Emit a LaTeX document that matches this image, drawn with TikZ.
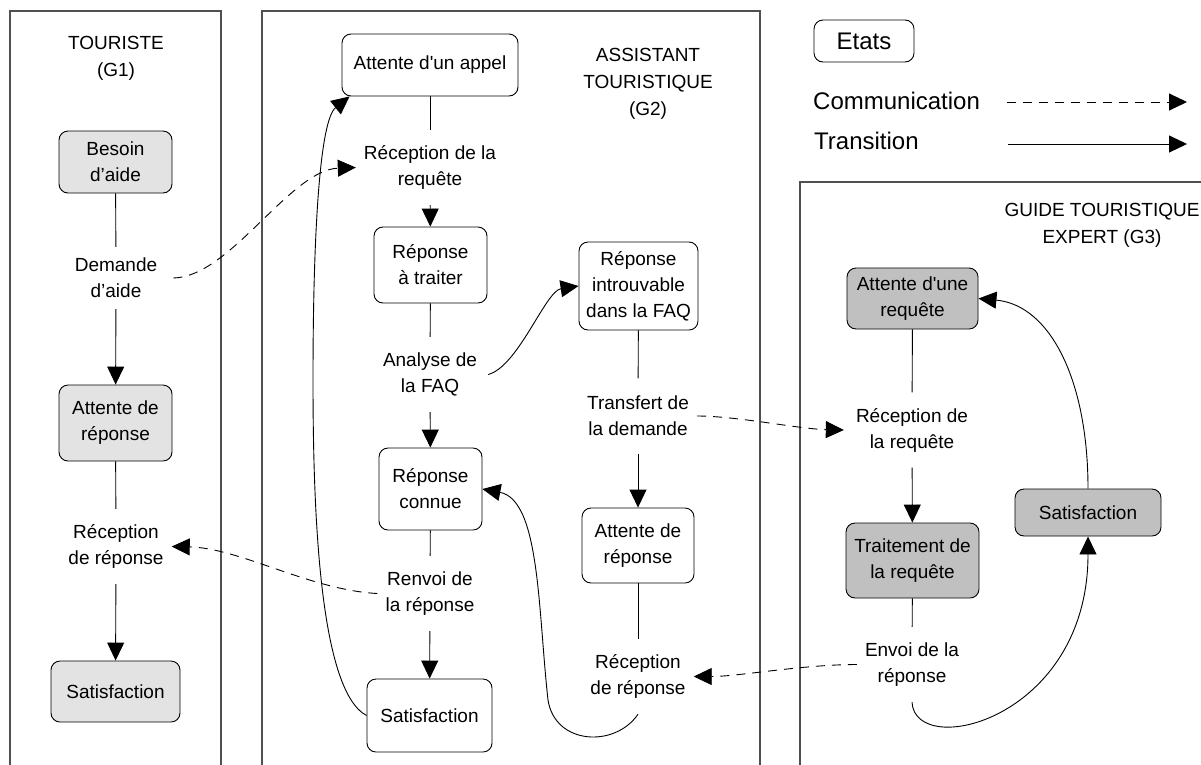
\documentclass[tikz,border=0pt]{standalone}
\usepackage{fontspec}
\setmainfont{Liberation Sans}
\usetikzlibrary{arrows.meta}
\definecolor{gone}{HTML}{E3E3E3}
\definecolor{gthree}{HTML}{C0C0C0}
\definecolor{lanec}{HTML}{505050}
\newcommand{\sq}{\textquotesingle}
\begin{document}
\begin{tikzpicture}[x=1pt,y=-1pt,
  every node/.style={font=\fontsize{19}{26}\selectfont, text=black},
  state/.style={draw, rounded corners=9pt, align=center, inner sep=0pt, line width=0.9pt},
  stateone/.style={state, fill=gone},
  statethree/.style={state, fill=gthree},
  lbl/.style={align=center, inner xsep=8pt, inner ysep=0pt, minimum height=75pt},
  ttl/.style={align=center, font=\fontsize{19}{27}\selectfont},
  lgd/.style={font=\fontsize{24}{28}\selectfont},
  lane/.style={draw=lanec, line width=1.2pt},
  trans/.style={line width=0.9pt},
  transarr/.style={line width=0.9pt, -{Triangle[length=18pt,width=17pt]}},
  comm/.style={line width=0.9pt, dash pattern=on 9pt off 7pt, -{Triangle[length=18pt,width=17pt]}}
]
\clip (0,0) rectangle (1201,764);
\fill[white] (0,0) rectangle (1201,764);

% lanes
\draw[lane] (10,780) -- (10,11) -- (221,11) -- (221,780);
\draw[lane] (262,780) -- (262,11) -- (760,11) -- (760,780);
\draw[lane] (800,780) -- (800,182) -- (1210,182);

% titles
\node[ttl] (t1) at (116,58) {TOURISTE\\(G1)};
\node[ttl] (t2) at (648,84) {ASSISTANT\\TOURISTIQUE\\(G2)};
\node[ttl] (t3) at (1102,225) {GUIDE TOURISTIQUE\\EXPERT (G3)};

% G1
\node[stateone, minimum width=113pt, minimum height=62pt] (besoin) at (115.5,162) {Besoin\\d’aide};
\node[lbl, minimum height=62pt] (demande) at (116,278) {Demande\\d’aide};
\node[stateone, minimum width=113pt, minimum height=76pt] (attun) at (115.5,423) {Attente de\\réponse};
\node[lbl] (recun) at (116,546.5) {Réception\\de réponse};
\node[stateone, minimum width=129pt, minimum height=61pt] (satun) at (115.5,691.5) {Satisfaction};

\draw[trans] (besoin) -- (demande);
\draw[transarr] (demande) -- (attun);
\draw[trans] (attun) -- (recun);
\draw[transarr] (recun) -- (satun);

% G2
\node[state, minimum width=176pt, minimum height=62pt] (appel) at (430,65) {Attente d\sq un appel};
\node[lbl] (recreq) at (430,167.5) {Réception de la\\requête};
\node[state, minimum width=113pt, minimum height=76pt] (traiter) at (430.5,265) {Réponse\\à traiter};
\node[lbl] (analyse) at (430,374.5) {Analyse de\\la FAQ};
\node[state, minimum width=103pt, minimum height=82pt] (connue) at (430.5,489) {Réponse\\connue};
\node[lbl] (renvoi) at (430,593.5) {Renvoi de\\la réponse};
\node[state, minimum width=125pt, minimum height=73pt] (satdeux) at (429.5,715.5) {Satisfaction};
\node[state, minimum width=119pt, minimum height=88pt] (introuv) at (638.5,286) {Réponse\\introuvable\\dans la FAQ};
\node[lbl] (transfert) at (638,416) {Transfert de\\la demande};
\node[state, minimum width=112pt, minimum height=75pt] (attdeux) at (638,545.5) {Attente de\\réponse};
\node[lbl] (recdeux) at (638,676.5) {Réception\\de réponse};

\draw[trans] (appel) -- (recreq);
\draw[transarr] (recreq) -- (traiter);
\draw[trans] (traiter) -- (analyse);
\draw[transarr] (analyse) -- (connue);
\draw[trans] (connue) -- (renvoi);
\draw[transarr] (renvoi) -- (satdeux);
\draw[trans] (introuv) -- (transfert);
\draw[transarr] (transfert) -- (attdeux);
\draw[trans] (attdeux) -- (recdeux);
\draw[transarr] ([xshift=3pt]analyse.east) .. controls +(30,-8) and +(-33,5) .. (introuv.west);
\draw[transarr] (recdeux.south) .. controls (615,748) and (555,745) .. (548,700)
   .. controls (538,610) and (540,500) .. (connue.east);
\draw[transarr] (satdeux.west) .. controls (318,690) and (313,500) .. (313,380)
   .. controls (313,230) and (320,120) .. ([xshift=8pt]appel.south west);

% G3
\node[statethree, minimum width=131pt, minimum height=61pt] (attreq) at (912.5,298.5) {Attente d\sq une\\requête};
\node[lbl] (rectrois) at (912,430) {Réception de\\la requête};
\node[statethree, minimum width=133pt, minimum height=75pt] (traitement) at (912.5,560.5) {Traitement de\\la requête};
\node[lbl] (envoi) at (912,664.5) {Envoi de la\\réponse};
\node[statethree, minimum width=146pt, minimum height=47pt] (sattrois) at (1088,512.5) {Satisfaction};

\draw[trans] (attreq) -- (rectrois);
\draw[transarr] (rectrois) -- (traitement);
\draw[trans] (traitement) -- (envoi);
\draw[transarr] (envoi.south) .. controls (915,760) and (1088,720) .. (sattrois.south);
\draw[transarr] (sattrois.north) .. controls (1088,380) and (1050,305) .. (attreq.east);

% communications
\draw[comm] ([xshift=8pt]demande.east) .. controls (230,277) and (290,170) .. (recreq.west);
\draw[comm] (renvoi.west) .. controls (310,590) and (240,548) .. (recun.east);
\draw[comm] (transfert.east) .. controls +(40,0) and +(-45,-1) .. ([xshift=-4pt]rectrois.west);
\draw[comm] (envoi.west) .. controls +(-55,0) and +(45,0) .. (recdeux.east);

% legend
\node[state, lgd, minimum width=100pt, minimum height=42pt] (etats) at (864,41) {Etats};
\node[lgd, anchor=west, inner sep=0pt] (lcomm) at (813,101) {Communication};
\node[lgd, anchor=west, inner sep=0pt] (ltrans) at (814,141) {Transition};
\coordinate (ca) at (1007,102);
\coordinate (cb) at (1187,102);
\coordinate (ta) at (1008,144);
\coordinate (tb) at (1187,144);
\draw[comm] (ca) -- (cb);
\draw[transarr] (ta) -- (tb);
\end{tikzpicture}
\end{document}
